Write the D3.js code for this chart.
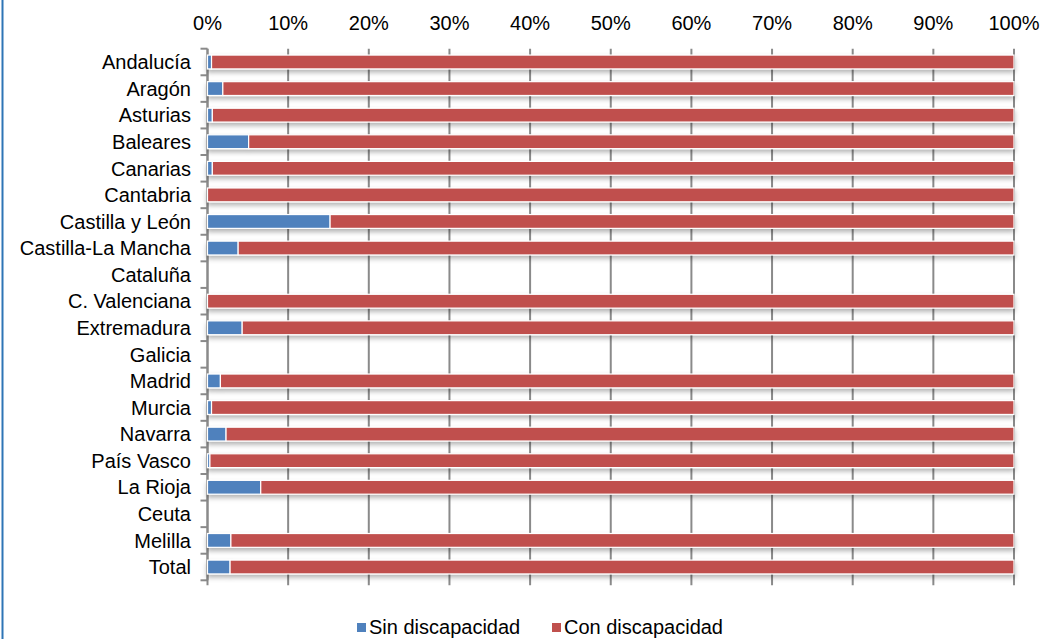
<!DOCTYPE html>
<html><head><meta charset="utf-8">
<script src="https://cdn.jsdelivr.net/npm/d3@7"></script>
<style>body{margin:0;background:#fff;}svg{display:block;font-family:"Liberation Sans",Arial,sans-serif;}</style>
</head><body>
<svg id="c" width="1045" height="639"></svg>
<script>
const categories = ["Andalucía","Aragón","Asturias","Baleares","Canarias","Cantabria","Castilla y León","Castilla-La Mancha","Cataluña","C. Valenciana","Extremadura","Galicia","Madrid","Murcia","Navarra","País Vasco","La Rioja","Ceuta","Melilla","Total"];
// null = no data
const sinDiscapacidad = [0.5,1.9,0.6,5.1,0.6,0,15.2,3.8,null,0,4.3,null,1.6,0.5,2.3,0.3,6.6,null,2.9,2.8];
const conDiscapacidad = sinDiscapacidad.map(v => v === null ? null : 100 - v);
const seriesNames = ["Sin discapacidad","Con discapacidad"];
const colors = ["#4f81bd","#c0504d"];
const xTicks = [0,10,20,30,40,50,60,70,80,90,100];

const svg = d3.select("#c");
const W = 1045, H = 639;
const x0 = 207.5, x1 = 1014, yTop = 48.7, yBot = 580.3;
const x = d3.scaleLinear().domain([0,100]).range([x0,x1]);
const y = d3.scaleBand().domain(categories).range([yTop,yBot]).paddingInner(0.48).paddingOuter(0.24);

// frame left line
svg.append("line").attr("x1",2.5).attr("x2",2.5).attr("y1",0).attr("y2",H).attr("stroke","#2e75b6").attr("stroke-width",2);

const defs = svg.append("defs");
const f = defs.append("filter").attr("id","sh").attr("x","-5%").attr("y","-50%").attr("width","110%").attr("height","250%");
f.append("feDropShadow").attr("dx",0).attr("dy",3).attr("stdDeviation",2.5).attr("flood-color","#000").attr("flood-opacity",0.3);

// gridlines
svg.append("g").selectAll("line").data(xTicks).join("line")
  .attr("x1",d=>x(d)).attr("x2",d=>x(d)).attr("y1",yTop).attr("y2",yBot+5)
  .attr("stroke","#8a8a8a").attr("stroke-width",2);

// top axis labels
svg.append("g").selectAll("text").data(xTicks).join("text")
  .attr("x",d=>x(d)).attr("y",30).attr("text-anchor","middle")
  .attr("font-size",20).attr("fill","#000").text(d=>d+"%");

// y axis line and ticks
const bounds = d3.range(categories.length+1).map(i => yTop + i*(yBot-yTop)/categories.length);
svg.append("line").attr("x1",x0).attr("x2",x0).attr("y1",yTop).attr("y2",yBot).attr("stroke","#8a8a8a").attr("stroke-width",2);
svg.append("g").selectAll("line").data(bounds).join("line")
  .attr("x1",x0-7).attr("x2",x0).attr("y1",d=>d).attr("y2",d=>d).attr("stroke","#8a8a8a").attr("stroke-width",2);

// category labels
svg.append("g").selectAll("text").data(categories).join("text")
  .attr("x",191).attr("y",d=>y(d)+y.bandwidth()/2).attr("dy","0.36em").attr("text-anchor","end")
  .attr("font-size",20).attr("fill","#000").text(d=>d);

// bars
const rows = categories.map((c,i)=>({c, s:sinDiscapacidad[i], k:conDiscapacidad[i]})).filter(r=>r.s!==null);
const g = svg.append("g").attr("filter","url(#sh)");
rows.forEach(r=>{
  const segs = [{v0:0,v1:r.s,col:colors[0]},{v0:r.s,v1:r.s+r.k,col:colors[1]}];
  segs.forEach(s=>{
    if (s.v1 - s.v0 <= 0) return;
    g.append("rect").attr("x",x(s.v0)).attr("y",y(r.c)).attr("width",x(s.v1)-x(s.v0)).attr("height",y.bandwidth())
      .attr("fill",s.col).attr("stroke","#fff").attr("stroke-width",1.2);
  });
});

// legend
const leg = svg.append("g");
const items = [{n:seriesNames[0],c:colors[0],x:357},{n:seriesNames[1],c:colors[1],x:552}];
items.forEach(it=>{
  leg.append("rect").attr("x",it.x).attr("y",623).attr("width",9).attr("height",9).attr("fill",it.c);
  leg.append("text").attr("x",it.x+12).attr("y",634).attr("font-size",20).attr("fill","#000").text(it.n);
});
</script>
</body></html>
